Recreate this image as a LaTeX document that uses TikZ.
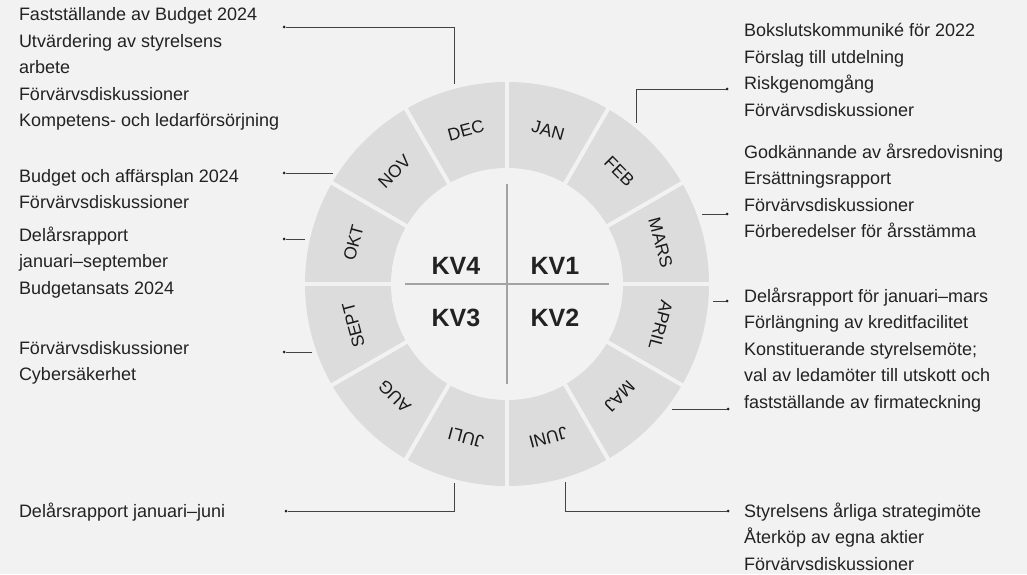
\documentclass[tikz,border=0pt]{standalone}
\usepackage{fontspec}
\setmainfont{Liberation Sans}
\usetikzlibrary{positioning}
\definecolor{bg}{HTML}{F2F2F2}
\definecolor{seg}{HTML}{DCDCDD}
\definecolor{ink}{HTML}{222222}
\definecolor{rule}{HTML}{A3A3A3}
\tikzset{x=1pt, y=1pt, font=\fontsize{18}{26.5}\selectfont, text=ink}
\tikzstyle{note} = [inner sep=0pt, outer sep=0pt, align=left, anchor=base west]
\tikzstyle{month} = [inner sep=0pt, text=black!90, font=\fontsize{17.5}{17.5}\selectfont]
\tikzstyle{quarter} = [inner sep=0pt, font=\fontsize{25}{25}\selectfont\bfseries]
\tikzstyle{gap} = [draw=bg, line width=4pt]
\tikzstyle{cross} = [draw=rule, line width=1.5pt]
\tikzstyle{link} = [draw=ink!85, line width=0.9pt]
\tikzstyle{dot} = [circle, fill=ink, minimum size=3pt, inner sep=0pt, outer sep=0pt]

\begin{document}
\begin{tikzpicture}
    \useasboundingbox (0,0) rectangle (1027,574);
    \fill[bg] (0,0) rectangle (1027,574);
    \coordinate (c) at (507,290);

    % ring
    \fill[seg] (c) circle (202pt);
    \draw[gap] ([shift={(0:204pt)}]c) -- ([shift={(180:204pt)}]c);
    \draw[gap] ([shift={(30:204pt)}]c) -- ([shift={(210:204pt)}]c);
    \draw[gap] ([shift={(60:204pt)}]c) -- ([shift={(240:204pt)}]c);
    \draw[gap] ([shift={(90:204pt)}]c) -- ([shift={(270:204pt)}]c);
    \draw[gap] ([shift={(120:204pt)}]c) -- ([shift={(300:204pt)}]c);
    \draw[gap] ([shift={(150:204pt)}]c) -- ([shift={(330:204pt)}]c);
    \fill[bg] (c) circle (116pt);

    \node[month, rotate=-15] (jan) at ([shift={(75:159pt)}]c) {JAN};
    \node[month, rotate=-45] (feb) at ([shift={(45:159pt)}]c) {FEB};
    \node[month, rotate=-75] (mars) at ([shift={(15:159pt)}]c) {MARS};
    \node[month, rotate=-105] (april) at ([shift={(-15:159pt)}]c) {APRIL};
    \node[month, rotate=-135] (maj) at ([shift={(-45:159pt)}]c) {MAJ};
    \node[month, rotate=-165] (juni) at ([shift={(-75:159pt)}]c) {JUNI};
    \node[month, rotate=165] (juli) at ([shift={(-105:159pt)}]c) {JULI};
    \node[month, rotate=135] (aug) at ([shift={(-135:159pt)}]c) {AUG};
    \node[month, rotate=105] (sept) at ([shift={(-165:159pt)}]c) {SEPT};
    \node[month, rotate=75] (okt) at ([shift={(165:159pt)}]c) {OKT};
    \node[month, rotate=45] (nov) at ([shift={(135:159pt)}]c) {NOV};
    \node[month, rotate=15] (dec) at ([shift={(105:159pt)}]c) {DEC};

    % quarters
    \draw[cross] ([xshift=-102pt]c) -- ([xshift=102pt]c);
    \draw[cross] ([yshift=-100pt]c) -- ([yshift=100pt]c);
    \node[quarter] (kv4) at ([shift={(-51pt,18pt)}]c) {KV4};
    \node[quarter] (kv1) at ([shift={(48pt,18pt)}]c) {KV1};
    \node[quarter] (kv3) at ([shift={(-51pt,-34pt)}]c) {KV3};
    \node[quarter] (kv2) at ([shift={(48pt,-34pt)}]c) {KV2};

    % left notes (base = last line)
    \node[note] (decnote) at (19,447) {Fastställande av Budget 2024\\Utvärdering av styrelsens\\arbete\\Förvärvsdiskussioner\\Kompetens- och ledarförsörjning};
    \node[note] (novnote) at (19,365.5) {Budget och affärsplan 2024\\Förvärvsdiskussioner};
    \node[note] (oktnote) at (19,280) {Delårsrapport\\januari–september\\Budgetansats 2024};
    \node[note] (septnote) at (19,193.5) {Förvärvsdiskussioner\\Cybersäkerhet};
    \node[note] (julinote) at (19,57) {Delårsrapport januari–juni};

    % right notes
    \node[note] (febnote) at (744,457.5) {Bokslutskommuniké för 2022\\Förslag till utdelning\\Riskgenomgång\\Förvärvsdiskussioner};
    \node[note] (marsnote) at (744,336.5) {Godkännande av årsredovisning\\Ersättningsrapport\\Förvärvsdiskussioner\\Förberedelser för årsstämma};
    \node[note] (aprilnote) at (744,166) {Delårsrapport för januari–mars\\Förlängning av kreditfacilitet\\Konstituerande styrelsemöte;\\val av ledamöter till utskott och\\fastställande av firmateckning};
    \node[note] (juninote) at (744,4) {Styrelsens årliga strategimöte\\Återköp av egna aktier\\Förvärvsdiskussioner};

    % connectors
    \node[dot] (decdot) at (284,547) {};
    \node[dot] (novdot) at (284,401) {};
    \node[dot] (oktdot) at (284,335) {};
    \node[dot] (septdot) at (284,222) {};
    \node[dot] (julidot) at (286,63) {};
    \node[dot] (febdot) at (727,485) {};
    \node[dot] (marsdot) at (727,360) {};
    \node[dot] (aprildot) at (727,273) {};
    \node[dot] (majdot) at (728,165) {};
    \node[dot] (junidot) at (728,63) {};
    \coordinate (decpin) at (454,490);
    \coordinate (novpin) at (333,401);
    \coordinate (oktpin) at (305,335);
    \coordinate (septpin) at (312,222);
    \coordinate (julipin) at (454,91);
    \coordinate (febpin) at (636,451);
    \coordinate (marspin) at (702,360);
    \coordinate (aprilpin) at (713,273);
    \coordinate (majpin) at (672,165);
    \coordinate (junipin) at (565,92);

    \draw[link] (decdot) -| (decpin);
    \draw[link] (novdot) -- (novpin);
    \draw[link] (oktdot) -- (oktpin);
    \draw[link] (septdot) -- (septpin);
    \draw[link] (julidot) -| (julipin);
    \draw[link] (febdot) -| (febpin);
    \draw[link] (marsdot) -- (marspin);
    \draw[link] (aprildot) -- (aprilpin);
    \draw[link] (majdot) -- (majpin);
    \draw[link] (junidot) -| (junipin);
\end{tikzpicture}
\end{document}
